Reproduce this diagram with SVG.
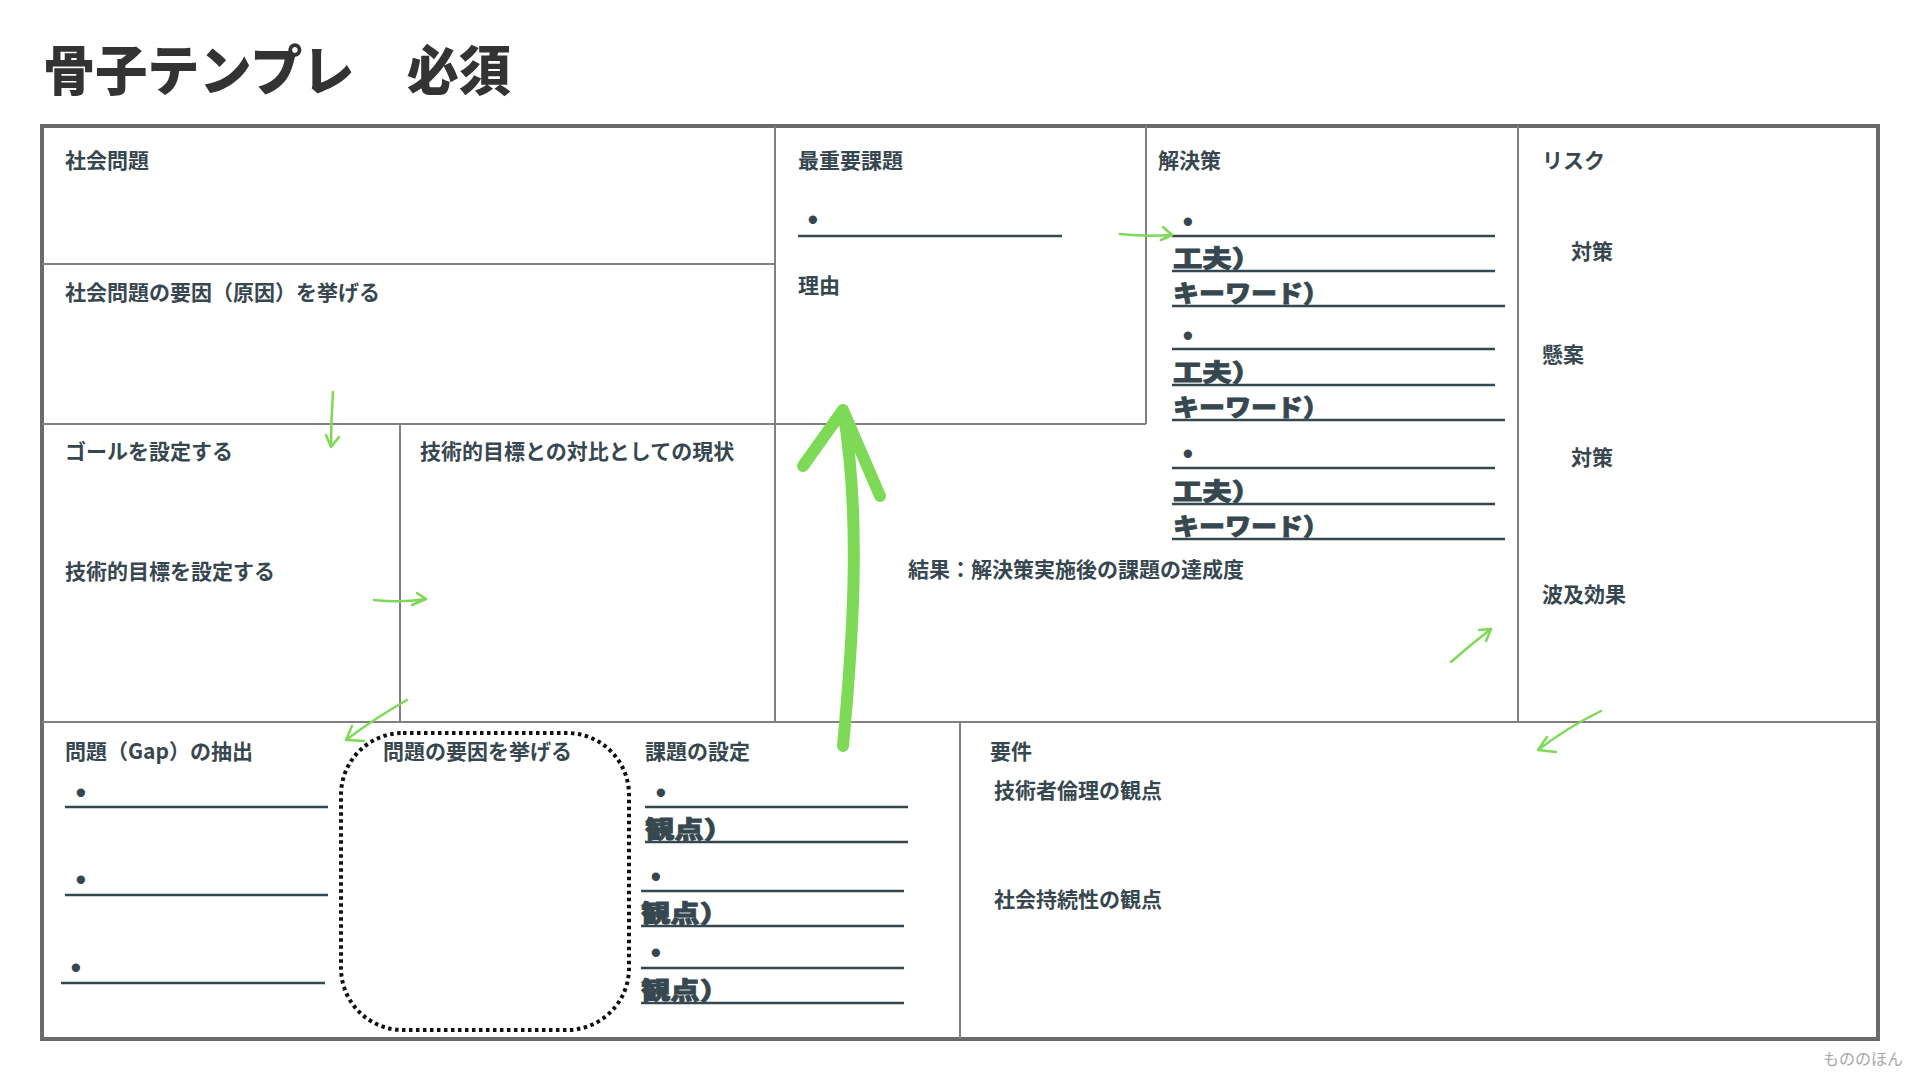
<svg xmlns="http://www.w3.org/2000/svg" width="1920" height="1080" viewBox="0 0 1920 1080">
<style>
.lbl{font-family:"Noto Sans CJK JP","Noto Sans",sans-serif;font-weight:700;font-size:21px;fill:#37474f}
.big{font-family:"Noto Sans CJK JP","Noto Sans",sans-serif;font-weight:900;font-size:24px;fill:#37474f;stroke:#37474f;stroke-width:0.8}
.bul{font-family:"Liberation Sans",sans-serif;font-weight:700;font-size:22px;fill:#37474f;stroke:#37474f;stroke-width:2}
.ul{stroke:#37474f;stroke-width:2.5;fill:none}
.grid{stroke:#808080;stroke-width:2;fill:none}
.arr{stroke:#7ed957;stroke-width:2.5;fill:none;stroke-linecap:round;stroke-linejoin:round}
.arrbig{stroke:#7ed957;stroke-width:12;fill:none;stroke-linecap:round;stroke-linejoin:round}
</style>
<rect width="1920" height="1080" fill="#ffffff"/>
<text x="43" y="91" font-family="'Noto Sans CJK JP',sans-serif" font-weight="900" font-size="54" fill="#333333" textLength="468" lengthAdjust="spacingAndGlyphs">骨子テンプレ　必須</text>

<g id="frame">
<rect x="42" y="126" width="1836" height="913" fill="none" stroke="#6b6b6b" stroke-width="4"/>
<path class="grid" d="M775,126V722 M1146,126V424 M1518,126V722 M400,424V722 M960,722V1039 M42,264H775 M42,424H1146 M42,722H1878"/>
</g>

<g id="social-problem"><text class="lbl" x="65" y="168">社会問題</text></g>
<g id="social-causes"><text class="lbl" x="65" y="300">社会問題の要因（原因）を挙げる</text></g>
<g id="goal">
<text class="lbl" x="65" y="459">ゴールを設定する</text>
<text class="lbl" x="65" y="579">技術的目標を設定する</text>
</g>
<g id="current-state"><text class="lbl" x="420" y="459">技術的目標との対比としての現状</text></g>
<g id="top-issue">
<text class="lbl" x="798" y="168">最重要課題</text>
<text class="bul" x="809" y="227">•</text>
<path class="ul" d="M798,236H1062"/>
<text class="lbl" x="798" y="293">理由</text>
</g>
<g id="solution">
<text class="lbl" x="1158" y="168">解決策</text>
<text class="bul" x="1184" y="229">•</text>
<text class="big" x="1173" y="267" textLength="88" lengthAdjust="spacingAndGlyphs">工夫）</text>
<text class="big" x="1173" y="302" textLength="156" lengthAdjust="spacingAndGlyphs">キーワード）</text>
<text class="bul" x="1184" y="343">•</text>
<text class="big" x="1173" y="381" textLength="88" lengthAdjust="spacingAndGlyphs">工夫）</text>
<text class="big" x="1173" y="416" textLength="156" lengthAdjust="spacingAndGlyphs">キーワード）</text>
<text class="bul" x="1184" y="461">•</text>
<text class="big" x="1173" y="500" textLength="88" lengthAdjust="spacingAndGlyphs">工夫）</text>
<text class="big" x="1173" y="535" textLength="156" lengthAdjust="spacingAndGlyphs">キーワード）</text>
<path class="ul" d="M1172,236H1495 M1172,271H1495 M1172,306H1505 M1172,349H1495 M1172,385H1495 M1172,420H1505 M1172,468H1495 M1172,504H1495 M1172,539H1505"/>
</g>
<g id="result"><text class="lbl" x="908" y="577">結果：解決策実施後の課題の達成度</text></g>
<g id="risk">
<text class="lbl" x="1542" y="168">リスク</text>
<text class="lbl" x="1571" y="259">対策</text>
<text class="lbl" x="1542" y="362">懸案</text>
<text class="lbl" x="1571" y="465">対策</text>
<text class="lbl" x="1542" y="602">波及効果</text>
</g>
<g id="gap">
<text class="lbl" x="65" y="759">問題（Gap）の抽出</text>
<text class="bul" x="77" y="800">•</text>
<text class="bul" x="77" y="887">•</text>
<text class="bul" x="72" y="975">•</text>
<path class="ul" d="M65,807H328 M65,895H328 M61,983H325"/>
</g>
<g id="problem-causes">
<rect x="341" y="733" width="288" height="297" rx="62" fill="none" stroke="#111111" stroke-width="4" stroke-dasharray="3.5 3.5"/>
<text class="lbl" x="383" y="759">問題の要因を挙げる</text>
</g>
<g id="task-setting">
<text class="lbl" x="645" y="759">課題の設定</text>
<text class="bul" x="657" y="800">•</text>
<text class="big" x="645" y="838" textLength="88" lengthAdjust="spacingAndGlyphs">観点）</text>
<text class="bul" x="652" y="884">•</text>
<text class="big" x="641" y="922" textLength="88" lengthAdjust="spacingAndGlyphs">観点）</text>
<text class="bul" x="652" y="960">•</text>
<text class="big" x="641" y="999" textLength="88" lengthAdjust="spacingAndGlyphs">観点）</text>
<path class="ul" d="M645,807H908 M645,842H908 M641,891H904 M641,926H904 M641,968H904 M641,1003H904"/>
</g>
<g id="requirements">
<text class="lbl" x="990" y="759">要件</text>
<text class="lbl" x="994" y="798">技術者倫理の観点</text>
<text class="lbl" x="994" y="907">社会持続性の観点</text>
</g>

<g id="connectors">
<path class="arr" d="M333,392 Q331,420 331,447 M326,435 L331,447 L339,437"/>
<path class="arr" d="M374,600 Q400,603 426,599 M417,593 L426,599 L412,605"/>
<path class="arr" d="M1120,234 Q1146,237 1172,235 M1163,227 L1172,235 L1161,240"/>
<path class="arr" d="M1451,662 Q1470,645 1491,629 M1479,630 L1491,629 L1486,641"/>
<path class="arr" d="M1601,711 Q1568,727 1538,750 M1547,737 L1538,750 L1556,752"/>
<path class="arr" d="M407,700 Q375,718 346,740 M352,726 L346,740 L364,741"/>
<path class="arrbig" d="M843,746 C852,650 862,520 843,410 M803,466 L843,410 L880,496"/>
</g>

<text x="1823" y="1065" font-family="'Noto Sans CJK JP',sans-serif" font-size="16" fill="#a8a8a8">もののほん</text>
</svg>
